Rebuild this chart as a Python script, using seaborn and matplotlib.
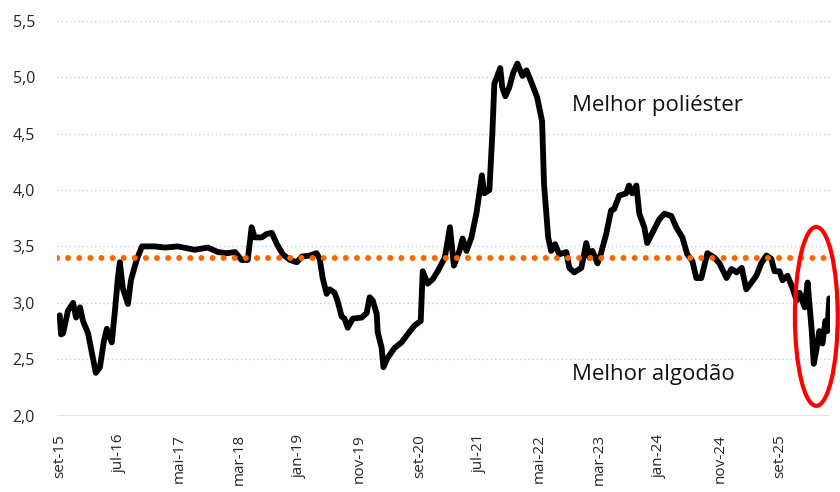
import numpy as np
import pandas as pd
import seaborn as sns
import matplotlib.pyplot as plt
from matplotlib.patches import Ellipse
import matplotlib.dates as mdates

# relação preço algodão / poliéster
datas = [
    "2015-09-03", "2015-09-10", "2015-09-20", "2015-10-15", "2015-11-10", "2015-11-25",
    "2015-12-15", "2015-12-30", "2016-01-25", "2016-02-14", "2016-03-04", "2016-03-25",
    "2016-04-14", "2016-04-29", "2016-05-24", "2016-06-09", "2016-06-24", "2016-07-04",
    "2016-07-19", "2016-08-14", "2016-08-29", "2016-09-14", "2016-09-29", "2016-10-24",
    "2016-12-29", "2017-02-18", "2017-04-24", "2017-07-18", "2017-09-23", "2017-11-13",
    "2017-12-28", "2018-02-08", "2018-03-13", "2018-04-13", "2018-05-03", "2018-05-18",
    "2018-06-23", "2018-07-18", "2018-08-13", "2018-09-08", "2018-10-08", "2018-11-13",
    "2018-12-18", "2019-01-13", "2019-02-23", "2019-03-28", "2019-04-13", "2019-04-28",
    "2019-05-18", "2019-06-02", "2019-06-27", "2019-07-12", "2019-08-02", "2019-08-17",
    "2019-09-02", "2019-09-27", "2019-11-12", "2019-12-07", "2019-12-22", "2020-01-07",
    "2020-01-27", "2020-02-01", "2020-02-21", "2020-03-01", "2020-03-21", "2020-04-26",
    "2020-06-01", "2020-07-01", "2020-08-06", "2020-09-06", "2020-09-16", "2020-10-11",
    "2020-11-06", "2020-12-01", "2021-01-06", "2021-02-01", "2021-02-21", "2021-03-21",
    "2021-04-06", "2021-04-26", "2021-05-21", "2021-06-16", "2021-07-13", "2021-07-25",
    "2021-08-20", "2021-09-04", "2021-09-14", "2021-10-14", "2021-10-24", "2021-11-09",
    "2021-11-29", "2021-12-19", "2022-01-09", "2022-02-04", "2022-02-24", "2022-03-24",
    "2022-04-19", "2022-05-14", "2022-05-24", "2022-06-14", "2022-06-29", "2022-07-19",
    "2022-08-09", "2022-09-14", "2022-09-29", "2022-10-24", "2022-11-29", "2022-12-24",
    "2023-01-09", "2023-01-24", "2023-02-19", "2023-03-09", "2023-04-04", "2023-04-29",
    "2023-05-14", "2023-06-09", "2023-07-14", "2023-07-29", "2023-08-14", "2023-09-04",
    "2023-09-19", "2023-10-14", "2023-10-29", "2023-11-24", "2023-12-29", "2024-01-24",
    "2024-02-28", "2024-03-24", "2024-04-24", "2024-05-19", "2024-06-14", "2024-07-04",
    "2024-07-29", "2024-08-29", "2024-10-04", "2024-10-29", "2024-12-04", "2024-12-29",
    "2025-01-24", "2025-02-19", "2025-03-14", "2025-04-09", "2025-05-04", "2025-05-29",
    "2025-06-24", "2025-07-19", "2025-08-04", "2025-08-29", "2025-09-14", "2025-10-09",
    "2025-11-04", "2025-11-24", "2025-12-09", "2026-01-04", "2026-01-19", "2026-02-09",
    "2026-02-19", "2026-03-04", "2026-03-19", "2026-04-04", "2026-04-19", "2026-04-29",
    "2026-05-09",
]
relacao = [
    2.89, 2.72, 2.73, 2.93, 3.00, 2.87,
    2.96, 2.84, 2.73, 2.55, 2.38, 2.43,
    2.66, 2.77, 2.65, 2.93, 3.22, 3.36,
    3.13, 2.99, 3.20, 3.30, 3.39, 3.50,
    3.50, 3.49, 3.50, 3.47, 3.49, 3.45,
    3.44, 3.45, 3.38, 3.38, 3.67, 3.58,
    3.58, 3.61, 3.62, 3.52, 3.43, 3.38,
    3.36, 3.41, 3.42, 3.44, 3.39, 3.22,
    3.08, 3.12, 3.09, 3.02, 2.88, 2.86,
    2.78, 2.86, 2.87, 2.91, 3.05, 3.02,
    2.90, 2.74, 2.60, 2.43, 2.51, 2.60,
    2.65, 2.72, 2.80, 2.84, 3.28, 3.17,
    3.21, 3.28, 3.40, 3.67, 3.33, 3.46,
    3.57, 3.46, 3.58, 3.80, 4.13, 3.97,
    4.00, 4.50, 4.94, 5.08, 4.91, 4.83,
    4.91, 5.04, 5.12, 5.01, 5.06, 4.94,
    4.82, 4.61, 4.05, 3.58, 3.46, 3.52,
    3.43, 3.45, 3.31, 3.27, 3.31, 3.53,
    3.40, 3.46, 3.35, 3.44, 3.61, 3.82,
    3.83, 3.95, 3.97, 4.04, 3.97, 4.04,
    3.79, 3.67, 3.53, 3.62, 3.74, 3.79,
    3.77, 3.67, 3.58, 3.43, 3.37, 3.22,
    3.22, 3.44, 3.40, 3.35, 3.22, 3.30,
    3.27, 3.31, 3.12, 3.18, 3.24, 3.35,
    3.42, 3.39, 3.28, 3.28, 3.20, 3.24,
    3.13, 3.02, 3.09, 2.96, 3.18, 2.75,
    2.46, 2.58, 2.75, 2.64, 2.84, 2.75,
    3.04,
]
media = 3.40

tick_datas = ["2015-09-01", "2016-07-01", "2017-05-01", "2018-03-01", "2019-01-01",
              "2019-11-01", "2020-09-01", "2021-07-01", "2022-05-01", "2023-03-01",
              "2024-01-01", "2024-11-01", "2025-09-01"]
tick_labels = ["set-15", "jul-16", "mai-17", "mar-18", "jan-19", "nov-19", "set-20",
               "jul-21", "mai-22", "mar-23", "jan-24", "nov-24", "set-25"]
y_ticks = [2.0, 2.5, 3.0, 3.5, 4.0, 4.5, 5.0, 5.5]
y_labels = ["2,0", "2,5", "3,0", "3,5", "4,0", "4,5", "5,0", "5,5"]

sns.set_theme(style="white")
plt.rcParams['font.family'] = ['Open Sans', 'DejaVu Sans']

df = pd.DataFrame({"data": pd.to_datetime(datas), "relacao": relacao})

fig, ax = plt.subplots(figsize=(8.4, 4.92), dpi=100)
fig.subplots_adjust(left=0.068, right=0.988, bottom=0.155, top=0.958)

for y in y_ticks[1:]:
    ax.axhline(y, color='#cfcfcf', lw=1.0, ls=(0, (1, 2)), zorder=0)
ax.axhline(2.0, color='#d9d9d9', lw=1.8, zorder=1)

sns.lineplot(data=df, x="data", y="relacao", color="black", linewidth=4.2,
             solid_joinstyle='round', solid_capstyle='round', ax=ax, zorder=3)
ax.axhline(media, color='#FF6600', lw=4.3, ls=(0, (0.01, 1.85)),
           dash_capstyle='round', zorder=4)

# destaque no final da série
cx = mdates.date2num(pd.Timestamp("2026-03-04"))
ax.add_patch(Ellipse((cx, 2.88), width=217, height=1.585, fill=False,
                     edgecolor='#FF0000', lw=3, zorder=5, clip_on=False))

ax.text(pd.Timestamp("2022-10-13"), 4.70, "Melhor poliéster", fontsize=16,
        color='#111111', va='baseline')
ax.text(pd.Timestamp("2022-10-13"), 2.32, "Melhor algodão", fontsize=16,
        color='#111111', va='baseline')

ax.set_xlim(pd.Timestamp("2015-08-21"), pd.Timestamp("2026-05-12"))
ax.set_ylim(2.0, 5.5)
ax.set_xticks(pd.to_datetime(tick_datas))
ax.set_xticklabels(tick_labels, rotation=90, fontsize=11)
ax.set_yticks(y_ticks)
ax.set_yticklabels(y_labels, fontsize=11.5)
ax.tick_params(axis='both', length=0)
ax.tick_params(axis='y', pad=16)
ax.tick_params(axis='x', pad=13)
ax.set_xlabel("")
ax.set_ylabel("")
sns.despine(ax=ax, left=True, bottom=True)

fig.savefig("out.png", dpi=100)
